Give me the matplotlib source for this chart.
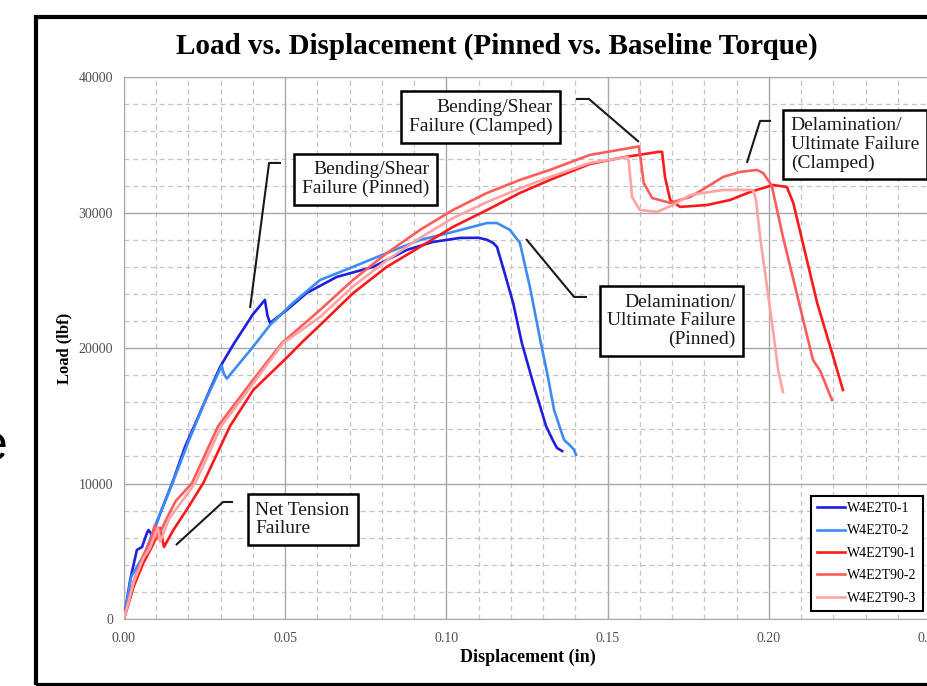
import numpy as np
import matplotlib
matplotlib.use("Agg")
from matplotlib import pyplot as plt
from matplotlib.patches import Rectangle
from matplotlib.ticker import MultipleLocator

plt.rcParams['font.family'] = ['Liberation Serif', 'DejaVu Serif']

# --- data (displacement in, load lbf) ---
t0_1_x = [0, 0.0019, 0.0040, 0.0056, 0.0071, 0.0076, 0.0087, 0.0115, 0.0153, 0.0189, 0.0230,
          0.0270, 0.0298, 0.0340, 0.0400, 0.0437, 0.0445, 0.0453, 0.0505, 0.0567, 0.0660,
          0.0773, 0.0877, 0.0958, 0.1042, 0.1100, 0.1126, 0.1145, 0.1157, 0.1180, 0.1207,
          0.1234, 0.1269, 0.1309, 0.1330, 0.1343, 0.1359]
t0_1_y = [0, 2880, 5100, 5320, 6350, 6570, 6200, 7950, 10260, 12700, 14920,
          17130, 18610, 20300, 22500, 23560, 22400, 21860, 22820, 24075, 25260,
          26000, 27250, 27840, 28140, 28150, 28000, 27770, 27470, 25600, 23340,
          20380, 17430, 14250, 13200, 12630, 12400]

t0_2_x = [0, 0.0022, 0.0065, 0.0100, 0.0150, 0.0200, 0.0250, 0.0303, 0.0310, 0.0319,
          0.0400, 0.0453, 0.0524, 0.0608, 0.0710, 0.0816, 0.0918, 0.1020, 0.1126, 0.1157,
          0.1197, 0.1228, 0.1259, 0.1293, 0.1315, 0.1334, 0.1365, 0.1380, 0.1396, 0.1402]
t0_2_y = [0, 3100, 4870, 7100, 10000, 13100, 16000, 18700, 18100, 17750,
          20090, 21710, 23340, 25030, 26000, 27030, 27990, 28580, 29240, 29240,
          28730, 27770, 24520, 20380, 17870, 15430, 13220, 12900, 12500, 12110]

t90_1_x = [0, 0.0030, 0.0060, 0.0090, 0.0112, 0.0124, 0.0153, 0.0194, 0.0246, 0.0329,
           0.0401, 0.0505, 0.0555, 0.0608, 0.0711, 0.0815, 0.0918, 0.1020, 0.1126, 0.1228,
           0.1321, 0.1445, 0.1550, 0.1660, 0.1669, 0.1678, 0.1694, 0.1725, 0.1808, 0.1880,
           0.1942, 0.2013, 0.2056, 0.2076, 0.2150, 0.2200, 0.2221, 0.2230]
t90_1_y = [0, 2400, 4130, 5500, 6720, 5320, 6570, 8050, 10040, 14250,
           16910, 19300, 20500, 21700, 24070, 26000, 27470, 28950, 30200, 31460,
           32420, 33600, 34100, 34500, 34490, 32640, 30940, 30430, 30570, 30940,
           31530, 32050, 31900, 30720, 23340, 19350, 17650, 16910]

t90_2_x = [0, 0.0030, 0.0060, 0.0085, 0.0095, 0.0102, 0.0130, 0.0160, 0.0211, 0.0292,
           0.0400, 0.0490, 0.0608, 0.0710, 0.0816, 0.0918, 0.1020, 0.1126, 0.1228, 0.1321,
           0.1445, 0.1550, 0.1597, 0.1605, 0.1612, 0.1638, 0.1694, 0.1756, 0.1808, 0.1858,
           0.1910, 0.1963, 0.1982, 0.2004, 0.2010, 0.2044, 0.2137, 0.2160, 0.2196]
t90_2_y = [0, 2800, 4700, 5900, 6900, 5900, 7300, 8700, 10040, 14250,
           17650, 20380, 22820, 25030, 27030, 28730, 30200, 31460, 32420, 33160,
           34270, 34700, 34900, 33500, 32200, 31090, 30720, 31160, 31900, 32640,
           33010, 33160, 32940, 32200, 31900, 28210, 19130, 18300, 16170]

t90_3_x = [0, 0.0030, 0.0060, 0.0080, 0.0105, 0.0112, 0.0140, 0.0221, 0.0302, 0.0494,
           0.0608, 0.0710, 0.0816, 0.0918, 0.1020, 0.1126, 0.1228, 0.1321, 0.1445, 0.1563,
           0.1566, 0.1576, 0.1600, 0.1653, 0.1703, 0.1756, 0.1858, 0.1951, 0.1960, 0.1973,
           0.2013, 0.2029, 0.2044]
t90_3_y = [0, 2700, 4500, 5200, 6800, 5700, 7400, 10040, 14250, 20380,
           22300, 24550, 26500, 28140, 29600, 30790, 31800, 32640, 33680, 34120,
           33680, 31160, 30200, 30060, 30570, 31310, 31680, 31680, 31000, 28210,
           21340, 18390, 16760]

series = [
    ('W4E2T0-1', t0_1_x, t0_1_y, '#1f1fe0'),
    ('W4E2T0-2', t0_2_x, t0_2_y, '#3d8cf5'),
    ('W4E2T90-1', t90_1_x, t90_1_y, '#ff1a1a'),
    ('W4E2T90-2', t90_2_x, t90_2_y, '#ff5c5c'),
    ('W4E2T90-3', t90_3_x, t90_3_y, '#ffa3a3'),
]

# callout boxes: text, anchor (x, y), alignment, leader line points
notes = [
    ('Bending/Shear\nFailure (Pinned)', (0.0749, 32460), 'right',
     [0.0487, 0.0450, 0.0391], [33675, 33675, 22970]),
    ('Bending/Shear\nFailure (Clamped)', (0.1107, 37070), 'right',
     [0.1402, 0.1442, 0.1597], [38400, 38400, 35230]),
    ('Delamination/\nUltimate Failure\n(Clamped)', (0.2267, 35040), 'left',
     [0.2007, 0.1973, 0.1932], [36780, 36780, 33680]),
    ('Delamination/\nUltimate Failure\n(Pinned)', (0.1698, 22010), 'right',
     [0.1436, 0.1396, 0.1247], [23780, 23780, 28060]),
    ('Net Tension\nFailure', (0.0554, 7350), 'left',
     [0.0338, 0.0307, 0.0161], [8640, 8640, 5460]),
]

fig = plt.figure(figsize=(9.28, 6.86), dpi=100)
ax = fig.add_axes([124/928, 67/686, 806/928, 541.7/686])

for name, xs, ys, c in series:
    ax.plot(xs, ys, color=c, lw=1.9, label=name, zorder=3)

ax.set_xlim(0, 0.25)
ax.set_ylim(0, 40000)
ax.xaxis.set_major_locator(MultipleLocator(0.05))
ax.xaxis.set_minor_locator(MultipleLocator(0.01))
ax.yaxis.set_major_locator(MultipleLocator(10000))
ax.yaxis.set_minor_locator(MultipleLocator(2000))
ax.set_xticks(np.arange(0, 0.26, 0.05))
ax.set_xticklabels([f'{v:.2f}' for v in np.arange(0, 0.26, 0.05)])
ax.grid(which='major', color='#a8a8a8', lw=1.0, ls='-')
ax.grid(which='minor', color='#c4c4c4', lw=0.9, ls=(0, (4, 3)))
ax.set_axisbelow(True)
ax.tick_params(which='both', length=0, labelsize=10, labelcolor='#505050')
ax.tick_params(axis='y', pad=8)
ax.tick_params(axis='x', pad=9)
for s in ax.spines.values():
    s.set_color('#a8a8a8')

ax.set_xlabel('Displacement (in)', fontsize=13, fontweight='bold')
ax.xaxis.set_label_coords(0.501, -0.055)
ax.set_ylabel('Load (lbf)', fontsize=12, fontweight='bold')
ax.yaxis.set_label_coords(-0.064, 0.5)

fig.text(0.5355, 0.932, 'Load vs. Displacement (Pinned vs. Baseline Torque)',
         ha='center', va='center', fontsize=21, fontweight='bold')

for txt, (tx, ty), al, lx, ly in notes:
    ax.plot(lx, ly, color='#1a1a1a', lw=1.5, zorder=4, solid_capstyle='butt')
    ax.text(tx, ty, txt, ha='center', va='center', multialignment=al,
            fontsize=14, color='#1a1a1a', linespacing=1.12, zorder=5,
            bbox=dict(boxstyle='square,pad=0.4', fc='white', ec='black', lw=1.8))

leg = ax.legend(loc='lower right', bbox_to_anchor=(0.991, 0.0148), borderaxespad=0,
                fontsize=10, handlelength=2.0, handletextpad=0.15, labelspacing=0.68,
                borderpad=0.45, fancybox=False, framealpha=1, edgecolor='black')
leg.get_frame().set_linewidth(1.5)
leg.set_zorder(6)

fig.patches.append(Rectangle((36/928, 1.5/686), 2.0, 667.5/686, transform=fig.transFigure,
                             fill=False, ec='black', lw=3))
fig.text(8/928, (686-447)/686, 'e', ha='right', va='center', fontsize=36,
         family='Liberation Sans')

fig.savefig('out.png', dpi=100)
